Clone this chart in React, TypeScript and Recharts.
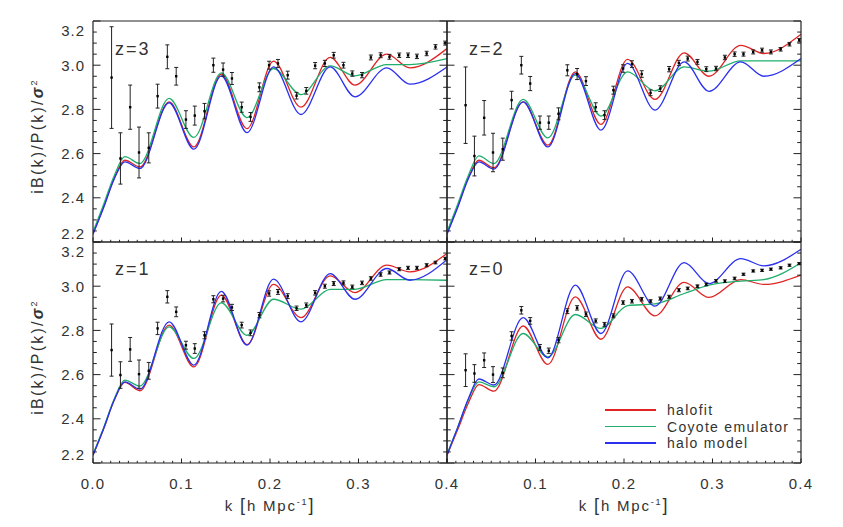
import { ComposedChart, ErrorBar, Line, Scatter, XAxis, YAxis } from 'recharts'

// k values of the model curves (turning points of the wiggles)
const K_CURVE = [0, 0.012, 0.024, 0.036, 0.053, 0.086, 0.114, 0.145, 0.174, 0.204, 0.235, 0.268, 0.296, 0.332, 0.358, 0.4]
// k values of the measured points
const K_POINTS = [
  0.021, 0.031, 0.042, 0.052, 0.063, 0.073, 0.084, 0.094, 0.105, 0.115, 0.126, 0.136, 0.147, 0.157, 0.168, 0.178, 0.188,
  0.199, 0.209, 0.22, 0.23, 0.241, 0.251, 0.262, 0.272, 0.283, 0.293, 0.304, 0.314, 0.325, 0.335, 0.346, 0.356, 0.366,
  0.377, 0.387, 0.398,
]

const X_MAJOR = [0, 0.1, 0.2, 0.3, 0.4]
const Y_MAJOR = [2.2, 2.4, 2.6, 2.8, 3.0, 3.2]

// z = 3
const Z3_HALOFIT = [2.24, 2.36, 2.49, 2.57, 2.54, 2.834, 2.63, 2.96, 2.713, 3.018, 2.81, 3.035, 2.91, 3.05, 2.988, 3.075]
const Z3_COYOTE = [2.245, 2.37, 2.5, 2.586, 2.555, 2.85, 2.673, 2.965, 2.763, 2.985, 2.867, 2.997, 2.952, 3.003, 3.003, 3.03]
const Z3_HALOMODEL = [2.235, 2.355, 2.485, 2.563, 2.533, 2.83, 2.62, 2.952, 2.695, 2.992, 2.777, 2.992, 2.857, 2.988, 2.914, 2.992]
const Z3_POINTS = [
  2.944, 2.578, 2.81, 2.605, 2.626, 2.86, 3.038, 2.95, 2.754, 2.772, 2.792, 3.0, 2.98, 2.94, 2.81, 2.766, 2.9, 3.0, 3.008,
  2.955, 2.862, 2.884, 2.998, 3.008, 3.045, 3.0, 2.962, 2.955, 3.035, 3.045, 3.038, 3.045, 3.045, 3.04, 3.053, 3.083, 3.1,
]
const Z3_ERRORS = [
  0.23, 0.116, 0.1, 0.115, 0.068, 0.054, 0.054, 0.04, 0.04, 0.043, 0.035, 0.032, 0.03, 0.027, 0.023, 0.02, 0.02, 0.018,
  0.018, 0.018, 0.015, 0.015, 0.014, 0.014, 0.013, 0.013, 0.012, 0.012, 0.011, 0.011, 0.011, 0.01, 0.01, 0.01, 0.01, 0.01,
  0.009,
]

// z = 2
const Z2_HALOFIT = [2.24, 2.36, 2.49, 2.57, 2.536, 2.834, 2.638, 2.97, 2.732, 3.026, 2.845, 3.056, 2.95, 3.09, 3.053, 3.14]
const Z2_COYOTE = [2.245, 2.37, 2.5, 2.59, 2.555, 2.845, 2.671, 2.955, 2.77, 2.97, 2.884, 2.992, 2.973, 3.02, 3.02, 3.02]
const Z2_HALOMODEL = [2.235, 2.355, 2.485, 2.563, 2.53, 2.834, 2.63, 2.962, 2.706, 3.008, 2.797, 3.015, 2.882, 3.015, 2.95, 3.03]
const Z2_POINTS = [
  2.819, 2.589, 2.762, 2.605, 2.62, 2.842, 3.0, 2.917, 2.74, 2.74, 2.78, 2.977, 2.96, 2.928, 2.81, 2.774, 2.887, 2.985,
  3.005, 2.96, 2.875, 2.894, 2.982, 3.01, 3.03, 3.015, 2.982, 2.985, 3.035, 3.05, 3.05, 3.06, 3.068, 3.06, 3.072, 3.095,
  3.113,
]
const Z2_ERRORS = [
  0.173, 0.09, 0.078, 0.087, 0.05, 0.04, 0.04, 0.032, 0.03, 0.03, 0.027, 0.025, 0.025, 0.02, 0.02, 0.02, 0.018, 0.017,
  0.015, 0.015, 0.013, 0.013, 0.012, 0.012, 0.011, 0.011, 0.011, 0.01, 0.01, 0.01, 0.009, 0.009, 0.009, 0.009, 0.008,
  0.008, 0.008,
]

// z = 1
const Z1_HALOFIT = [2.235, 2.355, 2.485, 2.565, 2.527, 2.824, 2.635, 2.96, 2.736, 3.008, 2.858, 3.047, 2.971, 3.095, 3.065, 3.148]
const Z1_COYOTE = [2.24, 2.36, 2.49, 2.575, 2.548, 2.816, 2.673, 2.925, 2.778, 2.941, 2.896, 2.986, 2.986, 3.03, 3.03, 3.027]
const Z1_HALOMODEL = [2.235, 2.355, 2.485, 2.567, 2.534, 2.839, 2.643, 2.977, 2.733, 3.032, 2.839, 3.057, 2.941, 3.08, 3.027, 3.12]
const Z1_POINTS = [
  2.711, 2.598, 2.714, 2.602, 2.617, 2.809, 2.952, 2.884, 2.733, 2.718, 2.778, 2.941, 2.944, 2.904, 2.824, 2.789, 2.869,
  2.967, 2.974, 2.955, 2.9, 2.914, 2.97, 3.0, 3.012, 3.015, 2.997, 3.015, 3.035, 3.053, 3.062, 3.077, 3.083, 3.083, 3.095,
  3.107, 3.125,
]
const Z1_ERRORS = [
  0.118, 0.06, 0.054, 0.064, 0.038, 0.028, 0.028, 0.022, 0.018, 0.022, 0.016, 0.016, 0.015, 0.014, 0.013, 0.013, 0.012,
  0.012, 0.011, 0.011, 0.01, 0.01, 0.01, 0.009, 0.009, 0.009, 0.008, 0.008, 0.008, 0.008, 0.007, 0.007, 0.007, 0.007,
  0.007, 0.006, 0.006,
]

// z = 0
const Z0_HALOFIT = [2.235, 2.35, 2.47, 2.555, 2.525, 2.82, 2.646, 2.952, 2.76, 2.997, 2.866, 3.017, 2.949, 3.03, 3.008, 3.05]
const Z0_COYOTE = [2.24, 2.36, 2.485, 2.567, 2.545, 2.786, 2.68, 2.872, 2.809, 2.912, 2.92, 2.967, 3.005, 3.023, 3.03, 3.106]
const Z0_HALOMODEL = [2.235, 2.36, 2.49, 2.58, 2.553, 2.858, 2.676, 3.005, 2.786, 3.069, 2.91, 3.107, 3.012, 3.125, 3.092, 3.167]
const Z0_POINTS = [
  2.62, 2.605, 2.665, 2.6, 2.608, 2.775, 2.891, 2.843, 2.723, 2.708, 2.756, 2.887, 2.902, 2.873, 2.843, 2.827, 2.866,
  2.926, 2.932, 2.941, 2.932, 2.944, 2.952, 2.982, 2.99, 3.0, 3.008, 3.024, 3.023, 3.035, 3.054, 3.069, 3.072, 3.077,
  3.083, 3.095, 3.102,
]
const Z0_ERRORS = [
  0.074, 0.04, 0.033, 0.036, 0.022, 0.019, 0.017, 0.015, 0.013, 0.012, 0.012, 0.011, 0.01, 0.01, 0.009, 0.009, 0.009,
  0.008, 0.008, 0.008, 0.007, 0.007, 0.007, 0.007, 0.006, 0.006, 0.006, 0.006, 0.006, 0.006, 0.005, 0.005, 0.005, 0.005,
  0.005, 0.005, 0.005,
]

const RED = '#e02424'
const GREEN = '#1fae6c'
const BLUE = '#2a30ee'
const INK = '#333'
const FONT = '"Liberation Sans", Arial, sans-serif'

// minor ticks every 0.01 in k and 0.05 in the ratio
const X_TICKS = Array.from({ length: 41 }, (_, i) => +(i * 0.01).toFixed(2))
const Y_TICKS = Array.from({ length: 21 }, (_, i) => +(2.2 + i * 0.05).toFixed(2))

const PLOT_W = 354
const PLOT_H = 221
const PLOT_X = [93, 447]
const PLOT_Y = [21, 242]
const AXIS_LINE = { stroke: '#222', strokeWidth: 1.2 }

const isMajor = (v: number, list: number[]) => list.some((m) => Math.abs(m - v) < 1e-6)

function XTick(props: any) {
  const { x, y, payload, side, showLabel, skipZero } = props
  const v = payload.value as number
  const major = isMajor(v, X_MAJOR)
  const len = major ? 4.5 : 2.2
  const dir = side === 'bottom' ? -1 : 1
  const label = showLabel && major && !(skipZero && v === 0)
  return (
    <g>
      <line x1={x} x2={x} y1={y} y2={y + dir * len} stroke="#222" strokeWidth={1} />
      {label && (
        <text x={x} y={y + 20} textAnchor="middle" dominantBaseline="central" fontSize={15} fill={INK} letterSpacing={1.2} fontFamily={FONT}>
          {v.toFixed(1)}
        </text>
      )}
    </g>
  )
}

function YTick(props: any) {
  const { x, y, payload, side, showLabel } = props
  const v = payload.value as number
  const major = isMajor(v, Y_MAJOR)
  const len = major ? 7.5 : 3.8
  const dir = side === 'left' ? 1 : -1
  // labels at the panel edges are nudged inwards, as in the original
  const dy = v >= 3.19 ? 9 : v <= 2.21 ? -9 : 0
  return (
    <g>
      <line x1={x} x2={x + dir * len} y1={y} y2={y} stroke="#222" strokeWidth={1} />
      {showLabel && major && (
        <text x={x - 8} y={y + dy} textAnchor="end" dominantBaseline="central" fontSize={15} fill={INK} letterSpacing={1} fontFamily={FONT}>
          {v.toFixed(1)}
        </text>
      )}
    </g>
  )
}

function Dot(props: any) {
  const { cx, cy } = props
  return <rect x={cx - 1.2} y={cy - 1.2} width={2.4} height={2.4} fill="#000" />
}

type PanelProps = {
  label: string
  halofit: number[]
  coyote: number[]
  halomodel: number[]
  points: number[]
  errors: number[]
  col: number
  row: number
}

function Panel({ label, halofit, coyote, halomodel, points, errors, col, row }: PanelProps) {
  const leftW = col === 0 ? 45 : 2
  const rightW = 2
  const topH = 2
  const bottomH = row === 1 ? 32 : 2
  const curve = (ys: number[]) => K_CURVE.map((k, i) => ({ k, v: ys[i] }))
  const measured = K_POINTS.map((k, i) => ({ k, v: points[i], err: errors[i] }))

  return (
    <div style={{ position: 'absolute', left: PLOT_X[col] - leftW, top: PLOT_Y[row] - topH }}>
      <ComposedChart
        width={leftW + PLOT_W + rightW}
        height={topH + PLOT_H + bottomH}
        margin={{ top: 0, right: 0, bottom: 0, left: 0 }}
      >
        <XAxis
          xAxisId="b"
          dataKey="k"
          type="number"
          orientation="bottom"
          domain={[0, 0.4]}
          allowDataOverflow
          ticks={X_TICKS}
          interval={0}
          height={bottomH}
          tickSize={0}
          tickMargin={0}
          tickLine={false}
          axisLine={AXIS_LINE}
          tick={(p: any) => <XTick {...p} side="bottom" showLabel={row === 1} skipZero={col === 1} />}
        />
        <XAxis
          xAxisId="t"
          type="number"
          orientation="top"
          domain={[0, 0.4]}
          allowDataOverflow
          ticks={X_TICKS}
          interval={0}
          height={topH}
          tickSize={0}
          tickMargin={0}
          tickLine={false}
          axisLine={AXIS_LINE}
          tick={(p: any) => <XTick {...p} side="top" showLabel={false} />}
        />
        <YAxis
          yAxisId="l"
          type="number"
          orientation="left"
          domain={[2.2, 3.2]}
          allowDataOverflow
          ticks={Y_TICKS}
          interval={0}
          width={leftW}
          tickSize={0}
          tickMargin={0}
          tickLine={false}
          axisLine={AXIS_LINE}
          tick={(p: any) => <YTick {...p} side="left" showLabel={col === 0} />}
        />
        <YAxis
          yAxisId="r"
          type="number"
          orientation="right"
          domain={[2.2, 3.2]}
          allowDataOverflow
          ticks={Y_TICKS}
          interval={0}
          width={rightW}
          tickSize={0}
          tickMargin={0}
          tickLine={false}
          axisLine={AXIS_LINE}
          tick={(p: any) => <YTick {...p} side="right" showLabel={false} />}
        />
        <Line xAxisId="b" yAxisId="l" data={curve(halofit)} dataKey="v" type="monotone" stroke={RED} strokeWidth={1.3} dot={false} isAnimationActive={false} />
        <Line xAxisId="b" yAxisId="l" data={curve(coyote)} dataKey="v" type="monotone" stroke={GREEN} strokeWidth={1.3} dot={false} isAnimationActive={false} />
        <Line xAxisId="b" yAxisId="l" data={curve(halomodel)} dataKey="v" type="monotone" stroke={BLUE} strokeWidth={1.3} dot={false} isAnimationActive={false} />
        <Scatter xAxisId="b" yAxisId="l" data={measured} dataKey="v" shape={Dot} isAnimationActive={false}>
          <ErrorBar dataKey="err" direction="y" width={2} stroke="#222" strokeWidth={1} isAnimationActive={false} />
        </Scatter>
      </ComposedChart>
      <div
        style={{
          position: 'absolute',
          left: leftW + 22,
          top: topH + (row === 0 ? 28 : 27),
          transform: 'translateY(-50%)',
          fontSize: 18,
          letterSpacing: 2,
          color: INK,
          fontFamily: FONT,
          whiteSpace: 'nowrap',
        }}
      >
        {label}
      </div>
    </div>
  )
}

function YTitle({ top }: { top: number }) {
  return (
    <div
      style={{
        position: 'absolute',
        left: 38,
        top,
        transform: 'translate(-50%, -50%) rotate(-90deg)',
        fontSize: 16,
        letterSpacing: 2.2,
        color: INK,
        fontFamily: FONT,
        whiteSpace: 'nowrap',
      }}
    >
      iB(k)/P(k)/<span style={{ fontStyle: 'italic', fontWeight: 'bold' }}>σ</span>
      <sup style={{ fontSize: 9 }}>2</sup>
    </div>
  )
}

function XTitle({ left }: { left: number }) {
  return (
    <div
      style={{
        position: 'absolute',
        left,
        top: 505,
        transform: 'translate(-50%, -50%)',
        fontSize: 15,
        letterSpacing: 1.8,
        color: INK,
        fontFamily: FONT,
        whiteSpace: 'nowrap',
      }}
    >
      k <span style={{ fontSize: 18 }}>[</span>h Mpc<sup style={{ fontSize: 9 }}>-1</sup>
      <span style={{ fontSize: 18 }}>]</span>
    </div>
  )
}

const LEGEND = [
  { name: 'halofit', color: RED },
  { name: 'Coyote emulator', color: GREEN },
  { name: 'halo model', color: BLUE },
]

export default function App() {
  return (
    <div style={{ position: 'absolute', left: 0, top: 0, width: 843, height: 527, background: '#fff', fontFamily: FONT }}>
      <style>{'.recharts-surface { overflow: visible; }'}</style>
      <Panel label="z=3" halofit={Z3_HALOFIT} coyote={Z3_COYOTE} halomodel={Z3_HALOMODEL} points={Z3_POINTS} errors={Z3_ERRORS} col={0} row={0} />
      <Panel label="z=2" halofit={Z2_HALOFIT} coyote={Z2_COYOTE} halomodel={Z2_HALOMODEL} points={Z2_POINTS} errors={Z2_ERRORS} col={1} row={0} />
      <Panel label="z=1" halofit={Z1_HALOFIT} coyote={Z1_COYOTE} halomodel={Z1_HALOMODEL} points={Z1_POINTS} errors={Z1_ERRORS} col={0} row={1} />
      <Panel label="z=0" halofit={Z0_HALOFIT} coyote={Z0_COYOTE} halomodel={Z0_HALOMODEL} points={Z0_POINTS} errors={Z0_ERRORS} col={1} row={1} />
      <YTitle top={136} />
      <YTitle top={357} />
      <XTitle left={270} />
      <XTitle left={624} />
      {LEGEND.map((item, i) => (
        <div key={item.name} style={{ position: 'absolute', left: 605, top: 410 + i * 16.5, transform: 'translateY(-50%)', display: 'flex', alignItems: 'center' }}>
          <div style={{ width: 51, height: 1.5, background: item.color }} />
          <span style={{ marginLeft: 11, fontSize: 14, letterSpacing: 1.3, color: INK, whiteSpace: 'nowrap' }}>{item.name}</span>
        </div>
      ))}
    </div>
  )
}
